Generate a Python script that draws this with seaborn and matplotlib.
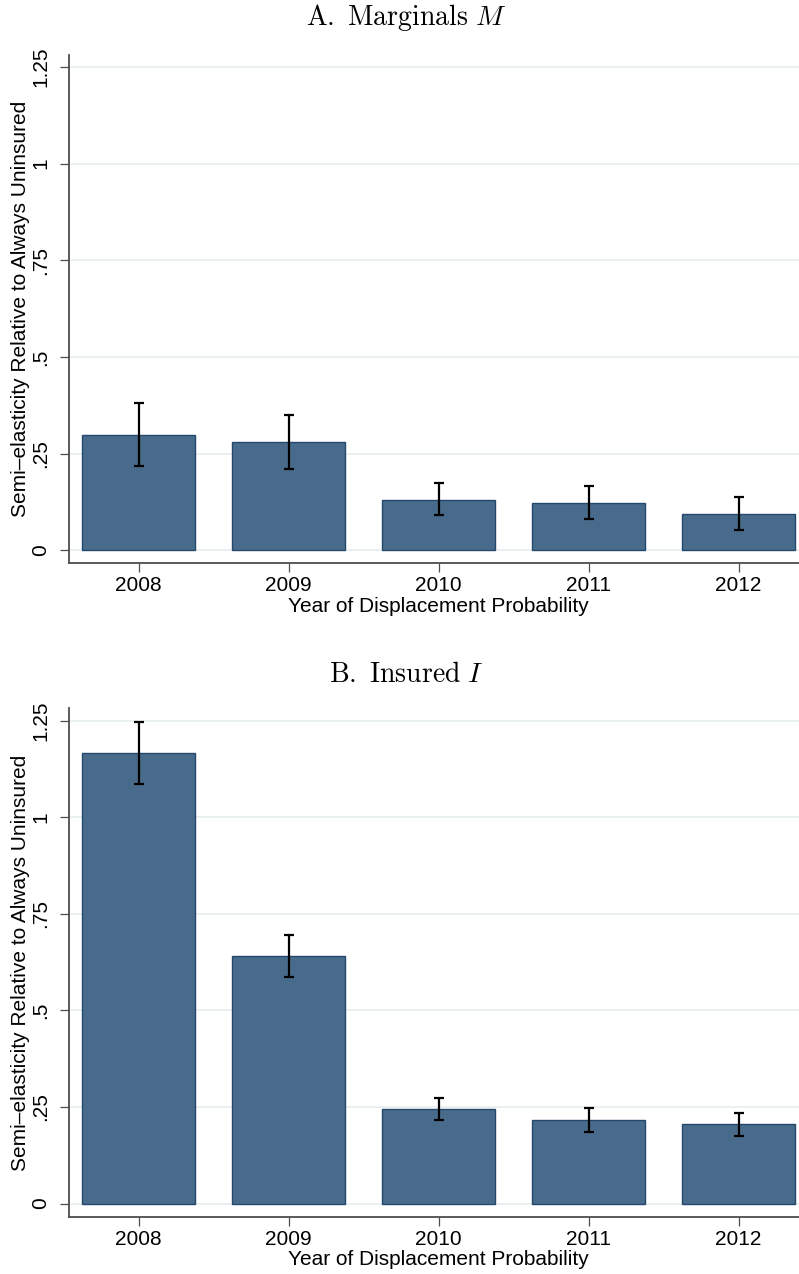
import matplotlib
matplotlib.use("Agg")
import matplotlib.pyplot as plt
import numpy as np
import pandas as pd
import seaborn as sns

# Estimated semi-elasticities by year, with 95% confidence bounds
years = ["2008", "2009", "2010", "2011", "2012"]

marginal_est = [0.299, 0.279, 0.131, 0.123, 0.094]
marginal_lo = [0.217, 0.209, 0.090, 0.080, 0.051]
marginal_hi = [0.380, 0.349, 0.173, 0.166, 0.138]

insured_est = [1.167, 0.640, 0.245, 0.216, 0.205]
insured_lo = [1.087, 0.586, 0.216, 0.186, 0.174]
insured_hi = [1.247, 0.695, 0.274, 0.247, 0.235]

panel_titles = [r"$\mathrm{A.\ Marginals}\ M$", r"$\mathrm{B.\ Insured}\ I$"]
y_ticks = [0, 0.25, 0.5, 0.75, 1.0, 1.25]
y_ticklabels = ["0", ".25", ".5", ".75", "1", "1.25"]
x_label = "Year of Displacement Probability"
y_label = "Semi\u2013elasticity Relative to Always Uninsured"

sns.set_theme(style="white")
plt.rcParams["font.family"] = ["Liberation Sans", "DejaVu Sans"]
plt.rcParams["mathtext.fontset"] = "cm"
plt.rcParams["text.color"] = "black"
plt.rcParams["axes.labelcolor"] = "black"
plt.rcParams["xtick.color"] = "black"
plt.rcParams["ytick.color"] = "black"

W, H = 799, 1274
fig = plt.figure(figsize=(W / 100, H / 100), dpi=100)

bar_fill = "#486B8B"
bar_edge = "#24486C"
spine_col = "#4d4d4d"
grid_col = "#EAF0F2"

panels = [
    (marginal_est, marginal_lo, marginal_hi, 563.3, 54.7, 0.9859),
    (insured_est, insured_lo, insured_hi, 1216.7, 708.3, 0.4700),
]

left_px = 69
axes_w_px = 739.4

for (est, lo, hi, bot_px, top_px, title_y), title in zip(panels, panel_titles):
    ax = fig.add_axes([left_px / W, 1 - bot_px / H, axes_w_px / W, (bot_px - top_px) / H])
    df = pd.DataFrame({"year": years, "value": est})
    for t in y_ticks:
        ax.axhline(t, color=grid_col, lw=1.4, zorder=0)
    sns.barplot(data=df, x="year", y="value", ax=ax, color=bar_fill,
                edgecolor=bar_edge, linewidth=1.0, width=0.755,
                errorbar=None, saturation=1, zorder=2)
    est_a = np.array(est)
    yerr = np.vstack([est_a - np.array(lo), np.array(hi) - est_a])
    ax.errorbar(np.arange(len(years)), est_a, yerr=yerr, fmt="none",
                ecolor="black", elinewidth=1.6, capsize=3.9, capthick=1.6, zorder=3)

    ax.set_xlim(-0.465, 4.465)
    ax.set_ylim(-0.034, 1.282)
    ax.set_yticks(y_ticks)
    ax.set_yticklabels(y_ticklabels, rotation=90, va="center")
    ax.tick_params(axis="y", length=6.5, width=0.9, color=spine_col, pad=7,
                   labelsize=15, left=True, labelcolor="black")
    ax.tick_params(axis="x", length=6.5, width=0.9, color=spine_col, pad=3,
                   labelsize=15, bottom=True, labelcolor="black")
    for s in ["top", "right"]:
        ax.spines[s].set_visible(False)
    for s in ["left", "bottom"]:
        ax.spines[s].set_color(spine_col)
        ax.spines[s].set_linewidth(1.3)
    ax.set_xlabel(x_label, fontsize=15, labelpad=1, color="black")
    ax.set_ylabel(y_label, fontsize=15, labelpad=1, color="black")
    fig.text(406 / W, title_y, title, fontsize=20, ha="center", va="center",
             color="black")

fig.savefig("out.png", dpi=100)
